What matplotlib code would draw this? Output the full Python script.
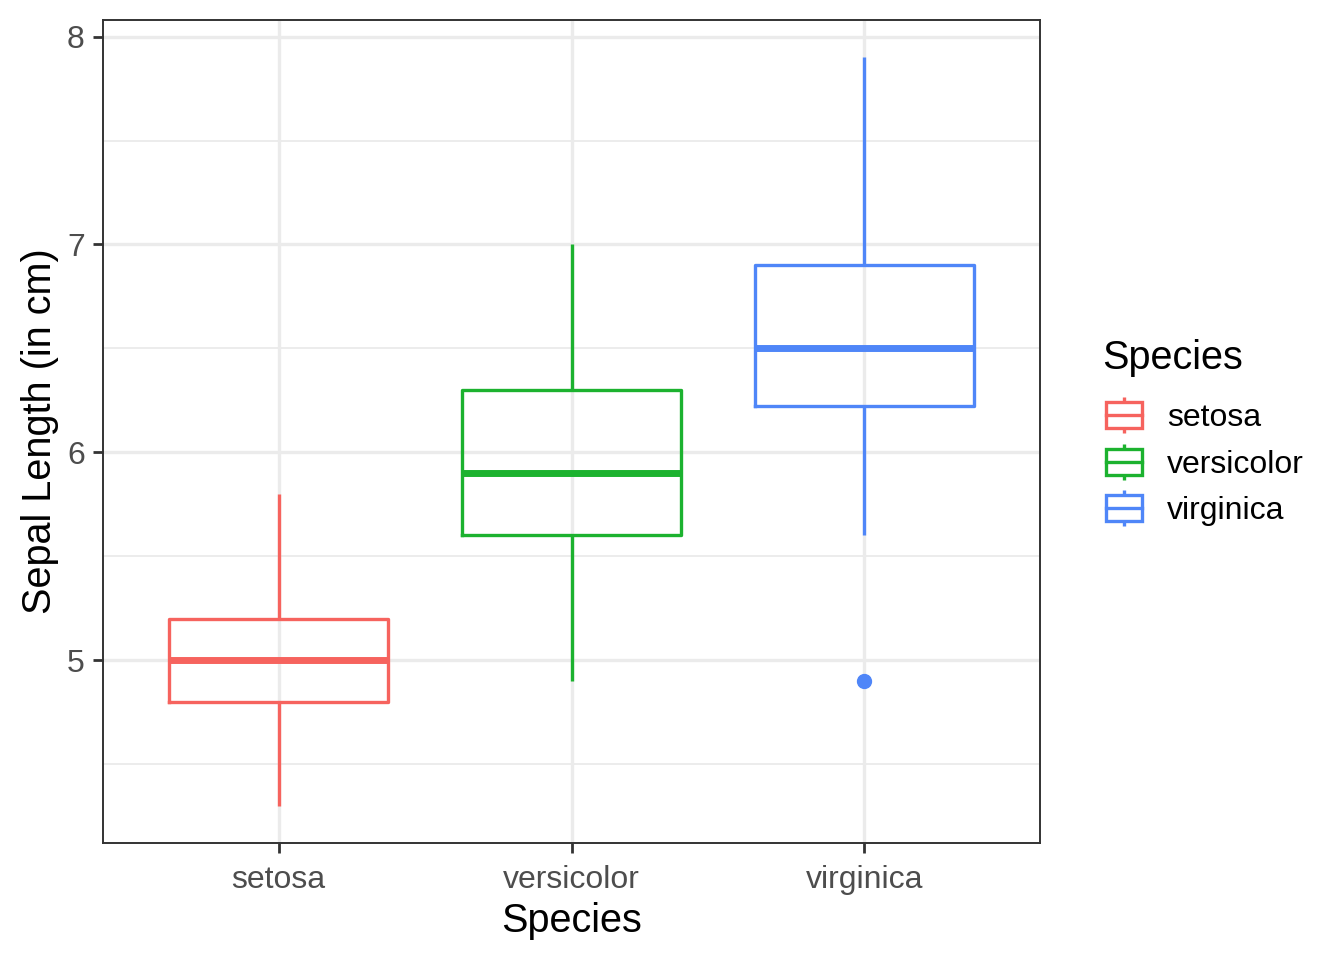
import matplotlib
matplotlib.use("Agg")
import matplotlib.pyplot as plt
from matplotlib.patches import Rectangle

species = ["setosa", "versicolor", "virginica"]
colors = ["#F6635E", "#1CB22F", "#4F86F8"]
q1 = [4.8, 5.6, 6.225]
med = [5.0, 5.9, 6.5]
q3 = [5.2, 6.3, 6.9]
whislo = [4.3, 4.9, 5.6]
whishi = [5.8, 7.0, 7.9]
outliers = [[], [], [4.9]]
yticks = [5, 6, 7, 8]
yminor = [4.5, 5.5, 6.5, 7.5]

plt.rcParams['font.family'] = ['Liberation Sans', 'DejaVu Sans']

W, H = 1344, 960
fig = plt.figure(figsize=(W / 100, H / 100), dpi=100)
L, R, T, B = 103, 1040, 20, 843
ax = fig.add_axes([L / W, 1 - B / H, (R - L) / W, (B - T) / H])

ax.set_xlim(0.4, 3.6)
ax.set_ylim(4.12, 8.08)
grid_c = "#EBEBEB"
for y in yminor:
    ax.axhline(y, color=grid_c, lw=1.3, zorder=0)
for y in yticks:
    ax.axhline(y, color=grid_c, lw=2.4, zorder=0)
for i in range(len(species)):
    ax.axvline(i + 1, color=grid_c, lw=2.4, zorder=0)

stats = []
for i, s in enumerate(species):
    stats.append(dict(label=s, q1=q1[i], med=med[i], q3=q3[i],
                      whislo=whislo[i], whishi=whishi[i], fliers=outliers[i]))
for i, st in enumerate(stats):
    c = colors[i]
    ax.bxp([st], positions=[i + 1], widths=0.75, showcaps=False,
           boxprops=dict(color=c, lw=2.4),
           whiskerprops=dict(color=c, lw=2.4, solid_capstyle='butt'),
           medianprops=dict(color=c, lw=5.0, solid_capstyle='butt'),
           flierprops=dict(marker='o', markerfacecolor=c, markeredgecolor=c,
                           markersize=10, linestyle='none'),
           manage_ticks=False, zorder=3)

ax.set_xticks(range(1, len(species) + 1))
ax.set_xticklabels(species)
ax.set_yticks(yticks)
ax.set_yticklabels([str(y) for y in yticks])
ax.tick_params(axis='both', colors='#333333', labelcolor='#4D4D4D',
               labelsize=23, length=7.2, width=2.0)
ax.tick_params(axis='x', pad=8.5)
ax.tick_params(axis='y', pad=6)
for sp in ax.spines.values():
    sp.set_color('#333333')
    sp.set_linewidth(1.4)
ax.set_xlabel("Species", fontsize=28.5, labelpad=5)
ax.set_ylabel("Sepal Length (in cm)", fontsize=28.5, labelpad=6)

# legend drawn in pixel coordinates
lax = fig.add_axes([1090 / W, 1 - 540 / H, 250 / W, 210 / H])
lax.set_xlim(1090, 1340)
lax.set_ylim(540, 330)
lax.axis('off')
lax.text(1102, 358, "Species", fontsize=28.5, va='center', ha='left')
centers = [415, 462, 508]
for i, s in enumerate(species):
    c = colors[i]
    cy = centers[i]
    lax.plot([1124, 1124], [cy - 18, cy + 18], color=c, lw=2.4, solid_capstyle='butt')
    lax.add_patch(Rectangle((1106, cy - 13), 36, 26, facecolor='white', edgecolor=c, lw=2.4, zorder=3))
    lax.plot([1106, 1142], [cy, cy], color=c, lw=2.4, zorder=4)
    lax.text(1167, cy + 3, s, fontsize=23, va='center', ha='left')

fig.savefig("out.png", dpi=100)
